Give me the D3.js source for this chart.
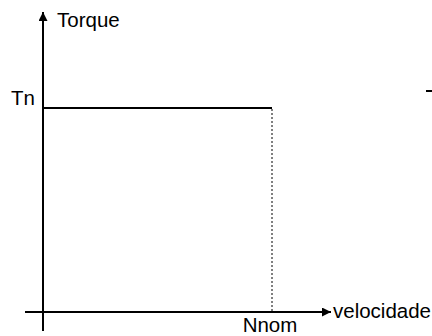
<!DOCTYPE html>
<html>
<head>
<meta charset="utf-8">
<script src="https://cdn.jsdelivr.net/npm/d3@7"></script>
<style>
  html, body { margin: 0; padding: 0; background: #fff; }
  svg { display: block; }
  text { font-family: "Liberation Sans", Arial, sans-serif; font-size: 20.5px; fill: #000; }
</style>
</head>
<body>
<svg id="chart" width="432" height="336"></svg>
<script>
// Constant-torque characteristic: torque stays at Tn from zero speed up to Nnom
const speed = [0, 1];          // per-unit speed (1 = Nnom)
const torque = [1, 1];         // per-unit torque (1 = Tn)
const xTickValues = [1];
const xTickLabels = ["Nnom"];
const yTickValues = [1];
const yTickLabels = ["Tn"];
const xAxisTitle = "velocidade";
const yAxisTitle = "Torque";

const svg = d3.select("#chart");

const x = d3.scaleLinear().domain([0, 1]).range([43, 272]);
const y = d3.scaleLinear().domain([0, 1]).range([312, 108]);

// Arrowhead markers for the axes
const defs = svg.append("defs");
defs.append("marker")
  .attr("id", "arrow")
  .attr("viewBox", "0 0 10 10")
  .attr("refX", 10).attr("refY", 5)
  .attr("markerUnits", "userSpaceOnUse")
  .attr("markerWidth", 10).attr("markerHeight", 9)
  .attr("orient", "auto")
  .append("path")
  .attr("d", "M0,0 L10,5 L0,10 Z")
  .attr("fill", "#000");

// Horizontal (speed) axis
svg.append("line")
  .attr("x1", x(0) - 18).attr("x2", 331)
  .attr("y1", y(0)).attr("y2", y(0))
  .attr("stroke", "#000").attr("stroke-width", 2)
  .attr("marker-end", "url(#arrow)");

// Vertical (torque) axis
svg.append("line")
  .attr("x1", x(0)).attr("x2", x(0))
  .attr("y1", y(0) + 19).attr("y2", 12)
  .attr("stroke", "#000").attr("stroke-width", 2)
  .attr("marker-end", "url(#arrow)");

// Torque curve
const line = d3.line().x((d, i) => x(speed[i])).y(d => y(d));
svg.append("path")
  .datum(torque)
  .attr("d", line)
  .attr("fill", "none")
  .attr("stroke", "#000")
  .attr("stroke-width", 2);

// Dotted drop line at nominal speed
svg.append("line")
  .attr("x1", x(speed[1])).attr("x2", x(speed[1]))
  .attr("y1", y(torque[1]) + 1).attr("y2", y(0) - 1)
  .attr("stroke", "#000").attr("stroke-width", 1)
  .attr("stroke-dasharray", "2,2");

// Tick labels
svg.selectAll(".xlab")
  .data(xTickValues)
  .enter().append("text")
  .attr("class", "xlab")
  .attr("x", d => x(d) - 2)
  .attr("y", 332)
  .attr("text-anchor", "middle")
  .text((d, i) => xTickLabels[i]);

svg.selectAll(".ylab")
  .data(yTickValues)
  .enter().append("text")
  .attr("class", "ylab")
  .attr("x", x(0) - 8)
  .attr("y", d => y(d) - 3)
  .attr("text-anchor", "end")
  .text((d, i) => yTickLabels[i]);

// Axis titles
svg.append("text")
  .attr("x", 57).attr("y", 27)
  .text(yAxisTitle);

svg.append("text")
  .attr("x", 333).attr("y", 318)
  .text(xAxisTitle);

// Fragment of a neighbouring label at the right edge
svg.append("line")
  .attr("x1", 426).attr("x2", 432)
  .attr("y1", 91).attr("y2", 91)
  .attr("stroke", "#000").attr("stroke-width", 2);
</script>
</body>
</html>
